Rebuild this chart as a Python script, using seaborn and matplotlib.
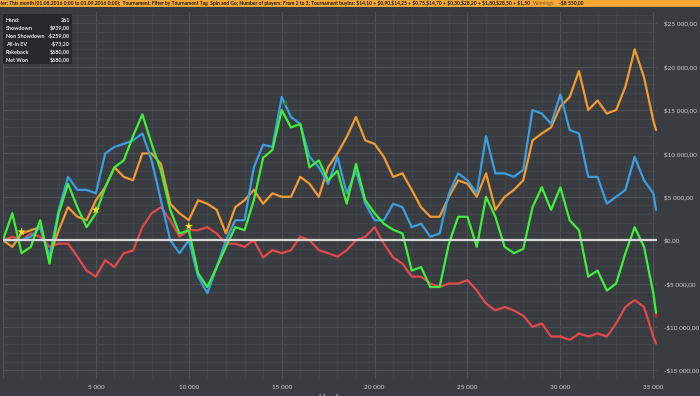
import matplotlib
matplotlib.use("Agg")
import matplotlib.pyplot as plt
from matplotlib.patches import Rectangle
from matplotlib.ticker import MultipleLocator, FuncFormatter
import numpy as np
import pandas as pd
import seaborn as sns

hands = [0, 500, 1000, 1500, 2000, 2500, 3000, 3500, 4000, 4500,
         5000, 5500, 6000, 6500, 7000, 7500, 8000, 8500, 9000, 9500,
         10000, 10500, 11000, 11500, 12000, 12500, 13000, 13500, 14000, 14500,
         15000, 15500, 16000, 16500, 17000, 17500, 18000, 18500, 19000, 19500,
         20000, 20500, 21000, 21500, 22000, 22500, 23000, 23500, 24000, 24500,
         25000, 25500, 26000, 26500, 27000, 27500, 28000, 28500, 29000, 29500,
         30000, 30500, 31000, 31500, 32000, 32500, 33000, 33500, 34000, 34500,
         35000, 35150]

all_in_ev = [0, -770, 770, 1150, 1500, -1900, 1150, 3800, 2700, 2300,
             4600, 6100, 8400, 7300, 6900, 10000, 10000, 8800, 4200, 3100,
             2300, 4600, 4200, 3500, 770, 3800, 4600, 5800, 4200, 5400,
             5000, 5000, 7300, 6500, 5000, 8400, 10000, 11900, 14200, 11500,
             11100, 9600, 7300, 7700, 5800, 3800, 2700, 2700, 5000, 6900,
             6500, 5000, 7700, 3500, 5000, 5800, 6900, 11500, 12300, 13000,
             15400, 16500, 19500, 15000, 16100, 14600, 15000, 17700, 22000, 18800,
             13800, 12700]

showdown = [0, 0, 0, 400, 1500, -1900, 3500, 7300, 5800, 5800,
            5400, 10000, 10750, 11100, 11500, 12300, 9200, 4600, 0, -1500,
            0, -4200, -6100, -3100, 0, 2300, 2300, 8400, 11000, 10750,
            16500, 14200, 13400, 9600, 8400, 6500, 9600, 5400, 8000, 4200,
            2300, 2300, 4200, 3800, 1500, 1900, 400, 770, 5400, 7700,
            6900, 5400, 12000, 7700, 7700, 7300, 8100, 15000, 14600, 13400,
            16800, 12700, 12300, 7300, 7300, 4200, 5000, 5800, 9600, 6900,
            5400, 3500]

net_won = [0, 3100, -1500, -770, 2300, -2700, 3100, 6500, 3800, 1500,
           3100, 6100, 8400, 9200, 12000, 14500, 11100, 8000, 3500, 770,
           1150, -3800, -5400, -3100, -770, 1500, 1150, 4600, 9500, 10400,
           15000, 13000, 13400, 8400, 9200, 6900, 8000, 4200, 8800, 4600,
           3100, 1900, 1200, 770, -3500, -3100, -5400, -5400, -400, 2700,
           2700, -770, 5000, 2700, -770, -1500, -1000, 3800, 6100, 3500,
           6100, 2300, 1150, -4200, -3500, -5800, -5000, -1500, 1500, -770,
           -6100, -8400]

non_showdown = [0, 400, 0, 770, 400, -770, -400, -400, -1900, -3500,
                -4200, -2300, -3100, -1500, -1200, 1500, 3100, 3800, 2300, 400,
                1150, 1150, 1500, 770, -400, -400, -770, 0, -2000, -1150,
                -1500, -1150, 400, 0, -1150, -1500, -1900, -1150, 0, 400,
                1500, -400, -2000, -2700, -4200, -4200, -5000, -5400, -5000, -5000,
                -4600, -5800, -7300, -8100, -7700, -8100, -8700, -10000, -9600, -11100,
                -11100, -11500, -10750, -11100, -10750, -11100, -9600, -7700, -6900, -7700,
                -11100, -11900]

star_hands = [1000, 5000, 10000]
star_vals = [960, 3500, 1600]
peak_hand, peak_val = [15230], [15900]
last_hand, last_val = [35150], [-8750]

stat_labels = ["Hand:", "Showdown", "Non Showdown", "All-In EV", "Rakeback", "Net Won"]
stat_values = ["261", "$939,00", "-$259,00", "-$73,20", "$680,00", "$680,00"]

filter_text = ("Filter: This month (01.08.2016 0:00 to 01.09.2016 0:00);  Tournament: Filter by Tournament Tag  "
               "Spin and Go; Number of players: From 2 to 3; Tournament buyins: $14,10 + $0,90,$14,25 + $0,75,"
               "$14,70 + $0,30,$28,20 + $1,80,$28,50 + $1,50")
winnings_total = "-$8 550,00"

series_order = ["Non Showdown", "All-In EV", "Showdown", "Net Won"]
palette = {"Non Showdown": "#e5484a", "All-In EV": "#f39a30",
           "Showdown": "#3a9fe0", "Net Won": "#3ff03a"}

df = pd.DataFrame({
    "hand": hands * 4,
    "value": non_showdown + all_in_ev + showdown + net_won,
    "series": (["Non Showdown"] * len(hands) + ["All-In EV"] * len(hands)
               + ["Showdown"] * len(hands) + ["Net Won"] * len(hands)),
})

bg = "#393c41"
sns.set_style("dark")
plt.rcParams["font.family"] = ["Lato", "DejaVu Sans"]

fig = plt.figure(figsize=(7, 3.96), dpi=100, facecolor=bg)
W, H = 700, 396
ax = fig.add_axes([3 / W, 1 - 379 / H, 654 / W, 367 / H])
ax.set_facecolor(bg)

sns.lineplot(data=df, x="hand", y="value", hue="series", hue_order=series_order,
             palette=palette, estimator=None, sort=False, linewidth=1.6,
             legend=False, ax=ax, zorder=3)
ax.axhline(0, color="#d8d8d8", linewidth=1.6, zorder=4)
sns.scatterplot(x=star_hands, y=star_vals, marker="*", s=40, color="#f5e020",
                edgecolor="none", ax=ax, zorder=5)
sns.scatterplot(x=peak_hand, y=peak_val, marker="^", s=14, color="#1e7a1e",
                edgecolor="none", ax=ax, zorder=5)
sns.scatterplot(x=last_hand, y=last_val, marker="v", s=10, color="#e02020",
                edgecolor="none", ax=ax, zorder=5)

ax.set_xlim(0, 35200)
ax.set_ylim(-16000, 26300)
ax.xaxis.set_major_locator(MultipleLocator(5000))
ax.xaxis.set_minor_locator(MultipleLocator(1000))
ax.yaxis.set_major_locator(MultipleLocator(5000))
ax.yaxis.set_minor_locator(MultipleLocator(1000))
ax.grid(which="major", color="#4d5055", linewidth=0.8)
ax.grid(which="minor", color="#42454a", linewidth=0.6)
ax.set_axisbelow(True)
for s in ax.spines.values():
    s.set_visible(False)


def money(v, pos=None):
    sign = "-" if v < 0 else ""
    return sign + "$" + f"{abs(int(v)):,}".replace(",", " ") + ",00"


def thousands(v, pos=None):
    if v <= 0:
        return ""
    return f"{int(v):,}".replace(",", " ")


ax.xaxis.set_major_formatter(FuncFormatter(thousands))
ax.yaxis.set_major_formatter(FuncFormatter(money))
ax.yaxis.tick_right()
ax.tick_params(axis="both", which="both", length=0, colors="#d0d0d0", labelsize=4.6)
ax.tick_params(axis="y", pad=5)
ax.tick_params(axis="x", pad=4)
ax.set_xlabel("Hands", color="#e0e0e0", fontsize=6, labelpad=3)
ax.yaxis.set_label_position("right")
ax.set_ylabel("Winnings", color="#e0e0e0", fontsize=6, labelpad=3)

# orange filter bar at top
fig.patches.append(Rectangle((0, 1 - 7 / H), 1, 7 / H, transform=fig.transFigure,
                             facecolor="#f5a834", edgecolor="none", zorder=0))
t1 = fig.text(-5 / W, 1 - 3.6 / H, filter_text, fontsize=4.5, fontweight="bold",
              color="#1a1a1a", va="center", ha="left", parse_math=False)
fig.canvas.draw()
# shrink the filter text so it ends where the reference line ends
fs = 4.5 * 537 / t1.get_window_extent().width
t1.set_fontsize(fs)
fig.canvas.draw()
end_x = t1.get_window_extent().x1 / W
t2 = fig.text(end_x + 3 / W, 1 - 3.6 / H, "Winnings:", fontsize=fs, color="#7a5a20",
              va="center", ha="left", parse_math=False)
fig.canvas.draw()
end_x2 = t2.get_window_extent().x1 / W
fig.text(end_x2 + 4 / W, 1 - 3.6 / H, winnings_total, fontsize=fs, fontweight="bold",
         color="#1a1a1a", va="center", ha="left", parse_math=False)

# stats box
fig.patches.append(Rectangle((3 / W, 1 - 64 / H), 69 / W, 50 / H, transform=fig.transFigure,
                             facecolor="#26282b", edgecolor="none", zorder=5))
row_y = [20.7, 28.8, 36.6, 44.3, 52.3, 60.0]
for lab, val, ry in zip(stat_labels, stat_values, row_y):
    fig.text(6 / W, 1 - ry / H, lab, fontsize=3.9, fontweight="bold", color="#e8e8e8",
             va="center", ha="left", zorder=6, parse_math=False)
    fig.text(70 / W, 1 - ry / H, val, fontsize=3.9, fontweight="bold", color="#e8e8e8",
             va="center", ha="right", zorder=6, parse_math=False)

fig.savefig("out.png", dpi=100, facecolor=bg)
